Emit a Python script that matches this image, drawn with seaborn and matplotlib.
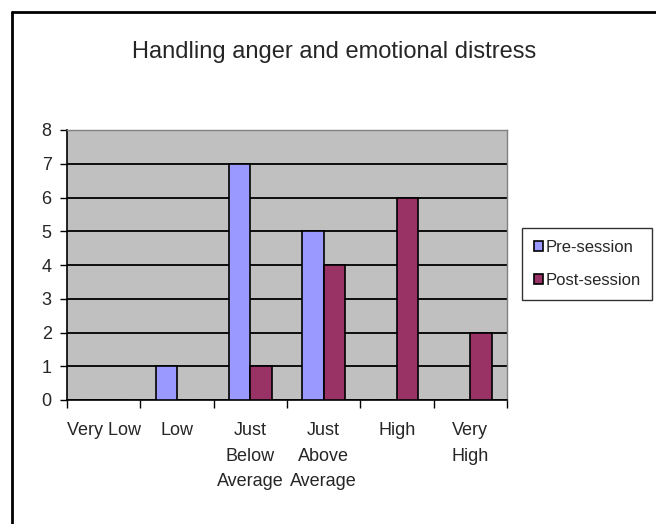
import pandas as pd
import matplotlib.pyplot as plt
import numpy as np
import seaborn as sns
from matplotlib.lines import Line2D

# values
categories = ['Very Low', 'Low', 'Just\nBelow\nAverage', 'Just\nAbove\nAverage', 'High', 'Very\nHigh']
pre_session = [0, 1, 7, 5, 0, 0]
post_session = [0, 0, 1, 4, 6, 2]
series_names = ['Pre-session', 'Post-session']
y_ticks = [0, 1, 2, 3, 4, 5, 6, 7, 8]

df = pd.DataFrame({
    'Category': categories * 2,
    'Count': pre_session + post_session,
    'Session': [series_names[0]] * len(categories) + [series_names[1]] * len(categories),
})

sns.set_style('white')
plt.rcParams['font.family'] = ['Liberation Sans Narrow', 'Liberation Sans', 'DejaVu Sans']

fig = plt.figure(figsize=(6.56, 5.24), dpi=100)
ax = fig.add_axes([67 / 656, 1 - 400 / 524, 440 / 656, 270 / 524])
ax.set_facecolor('#C0C0C0')

sns.barplot(data=df, x='Category', y='Count', hue='Session', order=categories,
            hue_order=series_names, palette=['#9999FF', '#993366'], saturation=1,
            width=0.58, gap=0, edgecolor='black', linewidth=1.2, ax=ax, zorder=3)

ax.set_ylim(0, 8)
ax.set_xlim(-0.5, len(categories) - 0.5)
ax.set_yticks(y_ticks)
ax.yaxis.grid(True, color='black', linewidth=1.3, zorder=1)
ax.set_axisbelow(True)
ax.tick_params(axis='y', labelsize=13, length=5, width=1, color='black', pad=6, left=True)
ax.set_xticks(range(len(categories)))
ax.set_xticklabels(categories, fontsize=13, linespacing=1.65, va='top')
ax.set_xticks(np.arange(-0.5, len(categories), 1), minor=True)
ax.tick_params(axis='x', which='major', length=0, pad=16)
ax.tick_params(axis='x', which='minor', length=6, width=1, color='black', bottom=True)
ax.set_xlabel('')
ax.set_ylabel('')

for side in ['left', 'bottom']:
    ax.spines[side].set_color('black')
    ax.spines[side].set_linewidth(1.2)
for side in ['top', 'right']:
    ax.spines[side].set_color('#808080')
    ax.spines[side].set_linewidth(1)

handles, labels = ax.get_legend_handles_labels()
ax.legend_.remove()
leg = fig.legend(handles, labels, loc='upper left',
                 bbox_to_anchor=(522 / 656, 1 - 228 / 524), fontsize=12,
                 frameon=True, fancybox=False, edgecolor='black',
                 handlelength=0.55, handleheight=0.55, handletextpad=0.15,
                 labelspacing=1.1, borderpad=0.7, borderaxespad=0)
leg.get_frame().set_linewidth(1)

fig.text(0.5 * (12 / 656 + 1), 1 - 52 / 524, 'Handling anger and emotional distress',
         ha='center', va='center', fontsize=17)

# outer chart border (clipped on right and bottom like the reference)
fig.add_artist(Line2D([12 / 656, 1], [1 - 12 / 524, 1 - 12 / 524], color='black', linewidth=2))
fig.add_artist(Line2D([12 / 656, 12 / 656], [0, 1 - 12 / 524], color='black', linewidth=2))

fig.savefig('out.png', dpi=100)
